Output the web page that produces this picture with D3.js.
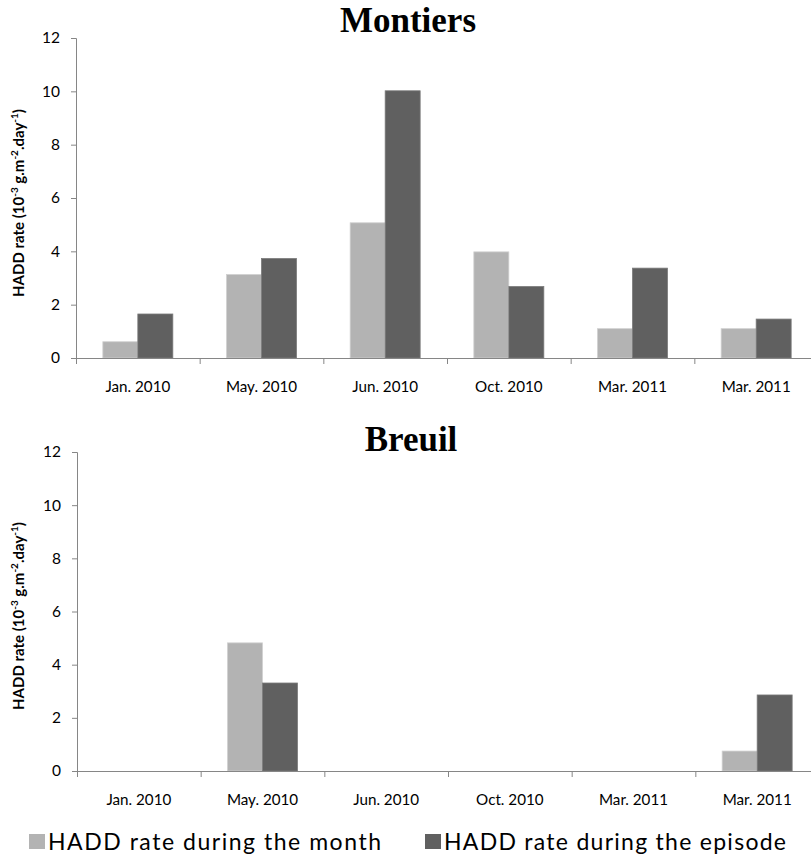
<!DOCTYPE html>
<html><head><meta charset="utf-8">
<script src="https://cdn.jsdelivr.net/npm/d3@7"></script>
<style>
body{margin:0;background:#fff;}
svg{display:block;}
</style></head>
<body>
<script>
const categories = ["Jan. 2010","May. 2010","Jun. 2010","Oct. 2010","Mar. 2011","Mar. 2011"];
const seriesNames = ["HADD rate during the month","HADD rate during the episode"];
const montiersMonth = [0.61,3.13,5.07,3.98,1.10,1.10];
const montiersEpisode = [1.65,3.73,10.02,2.68,3.37,1.46];
const breuilMonth = [0,4.82,0,0,0,0.75];
const breuilEpisode = [0,3.31,0,0,0,2.86];
const yTicks = [0,2,4,6,8,10,12];
const titles = ["Montiers","Breuil"];

const W=811,H=859;
const colors=["#b3b3b3","#606060"];
const axisColor="#868686";
const sansFont="Lato, 'Open Sans', sans-serif";

const svg=d3.select("body").append("svg").attr("width",W).attr("height",H);

const panels=[
  {title:titles[0], month:montiersMonth, episode:montiersEpisode, x0:76, x1:818, yTop:38, yBot:358, titleX:408, titleY:32, labelCY:203},
  {title:titles[1], month:breuilMonth, episode:breuilEpisode, x0:77, x1:819, yTop:452, yBot:771, titleX:411, titleY:451, labelCY:616}
];

panels.forEach(p=>{
  const g=svg.append("g");
  const idx=d3.range(categories.length);
  const x=d3.scaleBand().domain(idx).range([p.x0,p.x1]).paddingInner(0).paddingOuter(0);
  const bw=x.bandwidth();
  const gap=bw*0.217;
  const xs=d3.scaleBand().domain([0,1]).range([gap,bw-gap]).padding(0);
  const y=d3.scaleLinear().domain([0,12]).range([p.yBot,p.yTop]);
  const xb=d3.scaleLinear().domain([0,categories.length]).range([p.x0,p.x1]);

  const data=idx.map(i=>[p.month[i],p.episode[i]]);
  const grp=g.selectAll("g.cat").data(data).join("g").attr("transform",(d,i)=>`translate(${x(i)},0)`);
  grp.selectAll("rect").data(d=>d).join("rect")
    .attr("x",(d,j)=>xs(j))
    .attr("width",xs.bandwidth())
    .attr("y",d=>y(d))
    .attr("height",d=>p.yBot-y(d))
    .attr("fill",(d,j)=>colors[j])
    .attr("stroke",(d,j)=>j===0?"#d0d0d0":"#7a7a7a")
    .attr("stroke-width",d=>d>0?0.8:0);

  const ya=g.append("g").attr("transform",`translate(${p.x0},0)`)
    .call(d3.axisLeft(y).tickValues(yTicks).tickFormat(d3.format("d")).tickSize(5).tickPadding(11));
  ya.select(".domain").attr("stroke",axisColor);
  ya.selectAll(".tick line").attr("stroke",axisColor);
  ya.selectAll("text").attr("font-family",sansFont).attr("font-size",15.5).attr("fill","#000");

  const xa=g.append("g").attr("transform",`translate(0,${p.yBot})`)
    .call(d3.axisBottom(xb).tickValues(d3.range(categories.length)).tickFormat("").tickSize(6).tickSizeOuter(0));
  xa.select(".domain").attr("stroke",axisColor);
  xa.selectAll(".tick line").attr("stroke",axisColor);

  const xl=g.append("g").attr("transform",`translate(0,${p.yBot})`)
    .call(d3.axisBottom(x).tickFormat(i=>categories[i]).tickSize(0).tickPadding(23.5));
  xl.select(".domain").remove();
  xl.selectAll("text").attr("font-family",sansFont).attr("font-size",15.2).attr("fill","#000");

  g.append("text").attr("x",p.titleX).attr("y",p.titleY).attr("text-anchor","middle")
    .attr("font-family","'Liberation Serif','Times New Roman',serif").attr("font-weight","bold")
    .attr("font-size",35).text(p.title);

  const yl=g.append("text").attr("transform",`translate(24,${p.labelCY}) rotate(-90)`)
    .attr("text-anchor","middle").attr("font-family",sansFont).attr("font-weight","bold").attr("font-size",15);
  yl.append("tspan").text("HADD rate (10");
  yl.append("tspan").attr("dy",-6).attr("font-size",10).text("-3");
  yl.append("tspan").attr("dy",6).text(" g.m");
  yl.append("tspan").attr("dy",-6).attr("font-size",10).text("-2");
  yl.append("tspan").attr("dy",6).text(".day");
  yl.append("tspan").attr("dy",-6).attr("font-size",10).text("-1");
  yl.append("tspan").attr("dy",6).text(")");
});

const legend=svg.append("g");
const legX=[29,425];
const legLen=[333,342];
seriesNames.forEach((n,i)=>{
  legend.append("rect").attr("x",legX[i]).attr("y",834).attr("width",16).attr("height",15).attr("fill",colors[i]);
  legend.append("text").attr("x",legX[i]+19).attr("y",850).attr("font-family",sansFont).attr("font-size",23)
    .attr("textLength",legLen[i]).attr("lengthAdjust","spacing").attr("fill","#000").text(n);
});
</script>
</body></html>
